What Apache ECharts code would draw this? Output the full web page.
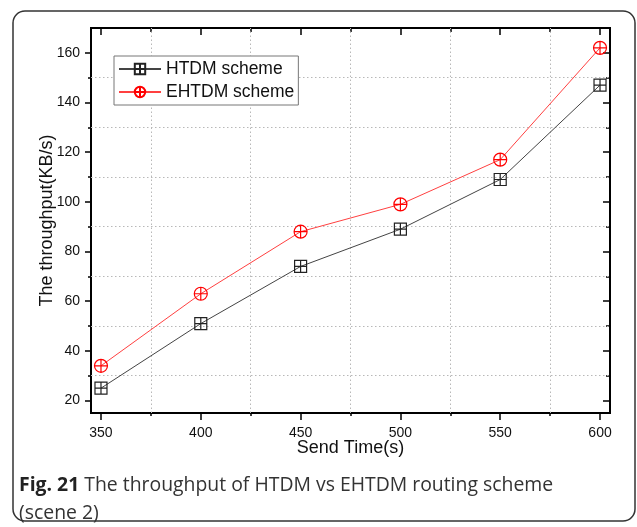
<!DOCTYPE html>
<html>
<head>
<meta charset="utf-8">
<script src="https://cdn.jsdelivr.net/npm/echarts@6/dist/echarts.min.js"></script>
<style>
  html, body { margin: 0; padding: 0; background: #fff; }
  #chart { width: 637px; height: 527px; }
</style>
</head>
<body>
<div id="chart"></div>
<script>
// Throughput of the two routing schemes against send time
const sendTimes = [350, 400, 450, 500, 550, 600];
const htdmThroughput = [25, 51, 74, 89, 109, 147];
const ehtdmThroughput = [34, 63, 88, 99, 117, 162];

// Axis tick positions
const xMajorTicks = [350, 400, 450, 500, 550, 600];
const xMinorTicks = [375, 425, 475, 525, 575];
const yMajorTicks = [20, 40, 60, 80, 100, 120, 140, 160];
const yMinorTicks = [30, 50, 70, 90, 110, 130, 150];

const X_RANGE = [345, 605];
const Y_RANGE = [15, 170];
const FONT = '"Liberation Sans", Arial, sans-serif';

// square with a cross, and circle with a cross
const SQUARE_CROSS = 'path://M0,0H10V10H0Z M5,0V10 M0,5H10';
const CIRCLE_CROSS = 'path://M0,5A5,5,0,1,1,10,5A5,5,0,1,1,0,5Z M5,0V10 M0,5H10';

function frameAxis(dim, position, ticks, tickLen, inside, opts) {
  const range = dim === 'x' ? X_RANGE : Y_RANGE;
  const ax = {
    type: 'value',
    position: position,
    min: range[0],
    max: range[1],
    axisLine: { show: true, onZero: false, lineStyle: { color: '#000', width: 2 } },
    axisTick: {
      show: true,
      inside: inside,
      length: tickLen,
      customValues: ticks,
      lineStyle: { color: '#000', width: 1.5 }
    },
    axisLabel: { show: false, customValues: ticks },
    splitLine: { show: false }
  };
  return Object.assign(ax, opts || {});
}

const xAxes = [
  frameAxis('x', 'bottom', xMajorTicks, 7, false, {
    name: 'Send Time(s)',
    nameLocation: 'middle',
    nameGap: 26,
    nameMoveOverlap: false,
    nameTextStyle: { fontFamily: FONT, fontSize: 18, color: '#111' },
    axisLabel: {
      show: true, customValues: xMajorTicks, margin: 13,
      fontFamily: FONT, fontSize: 14, color: '#111'
    }
  }),
  frameAxis('x', 'bottom', xMinorTicks, 3, false),
  frameAxis('x', 'top', xMajorTicks, 7, true),
  frameAxis('x', 'top', xMinorTicks, 4, true)
];

const yAxes = [
  frameAxis('y', 'left', yMajorTicks, 6, false, {
    name: 'The throughput(KB/s)',
    nameLocation: 'middle',
    nameGap: 35,
    nameMoveOverlap: false,
    nameTextStyle: { fontFamily: FONT, fontSize: 18, color: '#111' },
    axisLabel: {
      show: true, customValues: yMajorTicks, margin: 11,
      fontFamily: FONT, fontSize: 14, color: '#111'
    }
  }),
  frameAxis('y', 'left', yMinorTicks, 3, false),
  frameAxis('y', 'right', yMajorTicks, 7, true),
  frameAxis('y', 'right', yMinorTicks, 4, true)
];

function pairs(xs, ys) {
  return xs.map((x, i) => [x, ys[i]]);
}

// dotted grid on the minor tick positions
const gridLines = xMinorTicks.map(v => ({ xAxis: v }))
  .concat(yMinorTicks.map(v => ({ yAxis: v })));

const chart = echarts.init(document.getElementById('chart'), null, { renderer: 'canvas' });

chart.setOption({
  animation: false,
  backgroundColor: '#fff',
  grid: { left: 91, right: 27, top: 28, bottom: 114 },
  xAxis: xAxes,
  yAxis: yAxes,
  legend: {
    orient: 'vertical',
    left: 114,
    top: 56,
    padding: [3, 4, 3, 4],
    itemGap: 3,
    itemWidth: 42,
    itemHeight: 13,
    backgroundColor: '#fff',
    borderColor: '#777',
    borderWidth: 1,
    textStyle: { fontFamily: FONT, fontSize: 17.5, color: '#111', lineHeight: 20 },
    data: ['HTDM scheme', 'EHTDM scheme'],
    z: 6
  },
  series: [
    {
      name: 'HTDM scheme',
      type: 'line',
      data: pairs(sendTimes, htdmThroughput),
      symbol: SQUARE_CROSS,
      symbolSize: 12,
      lineStyle: { color: '#444', width: 1 },
      itemStyle: { color: 'rgba(255,255,255,0)', borderColor: '#222', borderWidth: 1.2 },
      z: 3,
      markLine: {
        silent: true,
        z: 1,
        symbol: ['none', 'none'],
        label: { show: false },
        emphasis: { disabled: true },
        lineStyle: { color: '#b8b8b8', width: 1, type: [1.5, 2.5] },
        data: gridLines
      }
    },
    {
      name: 'EHTDM scheme',
      type: 'line',
      data: pairs(sendTimes, ehtdmThroughput),
      symbol: CIRCLE_CROSS,
      symbolSize: 13,
      lineStyle: { color: '#ff4040', width: 1 },
      itemStyle: { color: 'rgba(255,255,255,0)', borderColor: '#ff0000', borderWidth: 1.2 },
      z: 3
    }
  ],
  graphic: [
    {
      type: 'rect',
      shape: { x: 13, y: 11, width: 622, height: 510, r: 12 },
      style: { fill: 'none', stroke: '#333', lineWidth: 1.5 },
      silent: true
    },
    {
      type: 'text',
      left: 19,
      top: 471,
      style: {
        text: '{b|Fig. 21} The throughput of HTDM vs EHTDM routing scheme\n(scene 2)',
        font: '19.4px "Open Sans", sans-serif',
        fill: '#333',
        lineHeight: 28,
        rich: {
          b: { fontWeight: 'bold', fontFamily: '"Open Sans", sans-serif', fontSize: 19.4, fill: '#222', lineHeight: 28 }
        }
      },
      silent: true
    }
  ]
});
</script>
</body>
</html>
